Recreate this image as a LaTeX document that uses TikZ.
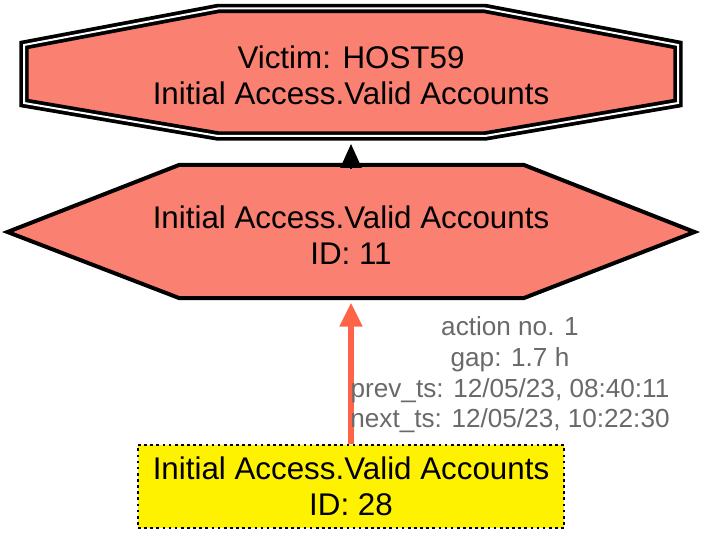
\documentclass[tikz,border=0pt]{standalone}
\usepackage{fontspec}
\setmainfont{Liberation Sans}
\usetikzlibrary{arrows.meta}
\definecolor{salmonc}{HTML}{FA8072}
\definecolor{tomatoc}{HTML}{FF6347}
\definecolor{labgray}{HTML}{696969}
\begin{document}
\begin{tikzpicture}[x=0.75pt,y=-0.75pt,
  lbl/.style={align=center,font=\fontsize{23.5}{27}\selectfont,inner sep=0pt},
  edgelbl/.style={align=center,font=\fontsize{19.6}{23}\selectfont,text=labgray,inner sep=0pt},
  octshape/.style={fill=salmonc,line width=2.8pt,double=white,double distance=1.5pt,line join=miter},
  hexshape/.style={fill=salmonc,line width=3pt,line join=miter},
  dotbox/.style={fill=yellow,draw=black,line width=2pt,dash pattern=on 2pt off 2.6pt,
    minimum width=319.5pt,minimum height=62.25pt,inner sep=0pt,align=center,
    font=\fontsize{23.5}{27}\selectfont}]
\useasboundingbox (0,0) rectangle (702,534);
% octagon
\draw[octshape] (218,8.5) -- (485,8.5) -- (678,45) -- (678,103) -- (485,136) -- (218,136) -- (24,103) -- (24,45) -- cycle;
\node[lbl] (victim) at (351,75) {Victim: HOST59\\Initial Access.Valid Accounts};
% hexagon
\draw[hexshape] (179,165) -- (524,165) -- (694.5,232) -- (524,298) -- (179,298) -- (7.5,232) -- cycle;
\node[lbl] (t11) at (351,235) {Initial Access.Valid Accounts\\ID: 11};
% yellow box
\node[dotbox] (t28) at (351,486.5) {Initial Access.Valid Accounts\\ID: 28};
% coordinates
\coordinate (hextop) at (351,168);
\coordinate (octbot) at (351,144);
\coordinate (hexbot) at (351,302.5);
% edges
\draw[line width=1pt,-{Triangle[length=18pt,width=16pt]}] (hextop) -- (octbot);
\draw[tomatoc,line width=4.5pt,-{Triangle[length=18pt,width=16pt]}] (t28.north) -- (hexbot);
\node[edgelbl] (lab) at (510,375) {action no. 1\\gap: 1.7 h\\prev\_ts: 12/05/23, 08:40:11\\next\_ts: 12/05/23, 10:22:30};
\end{tikzpicture}
\end{document}
